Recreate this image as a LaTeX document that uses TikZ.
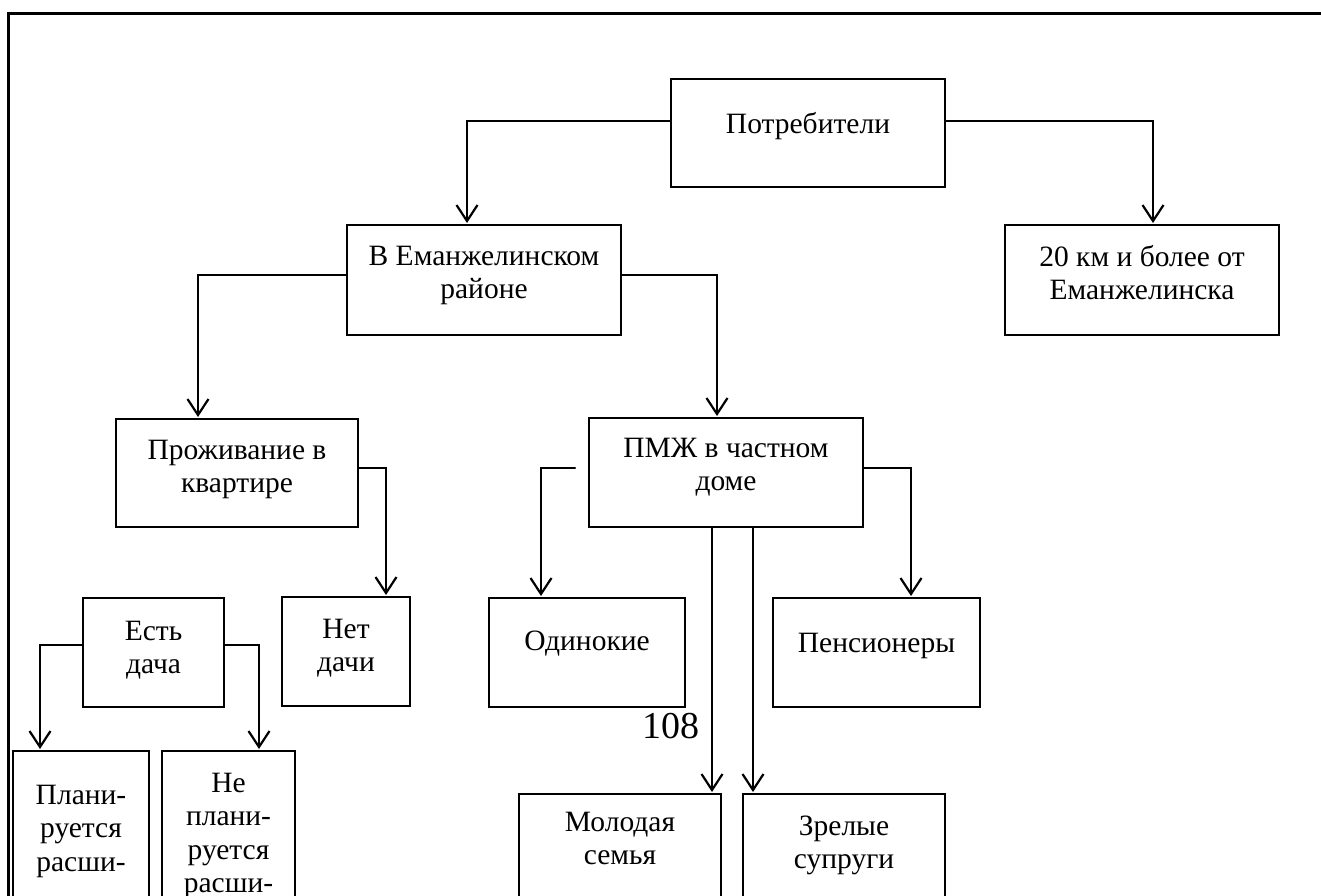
\documentclass[tikz,border=0pt]{standalone}
\usepackage{fontspec}
\setmainfont{Liberation Serif}
\usetikzlibrary{arrows.meta}
\newcommand{\boxtxt}[4]{\parbox[t][#2][t]{#1}{\centering\rule{0pt}{#3}#4}}

\begin{document}
\begin{tikzpicture}[x=1pt,y=-1pt,font=\fontsize{29.5}{33.5}\selectfont,line cap=round,
  box/.style={draw,line width=2pt,inner sep=0pt,anchor=north west},
  arr/.style={line width=2.2pt,-{Straight Barb[length=16pt,width=21pt]},shorten >=1pt}]
\useasboundingbox (0,0) rectangle (1321,895);
\begin{scope}
\clip (0,0) rectangle (1321,895);
\draw[line width=3pt,line cap=butt] (8,900) -- (8,13) -- (1325,13);
\node[box] (potr) at (670,78) {\boxtxt{274pt}{108pt}{54pt}{Потребители}};
\node[box] (vem) at (346,224) {\boxtxt{274pt}{110pt}{40pt}{В Еманжелинском\\районе}};
\node[box] (far) at (1004,224) {\boxtxt{274pt}{110pt}{41pt}{20 км и более от\\Еманжелинска}};
\node[box] (prozh) at (115,418) {\boxtxt{242pt}{108pt}{40pt}{Проживание в\\квартире}};
\node[box] (pmzh) at (588,417) {\boxtxt{274pt}{109pt}{39pt}{ПМЖ в частном\\доме}};
\node[box] (est) at (82,597) {\boxtxt{141pt}{109pt}{42pt}{Есть\\дача}};
\node[box] (net) at (281,596) {\boxtxt{128pt}{109pt}{41pt}{Нет\\дачи}};
\node[box] (odin) at (488,597) {\boxtxt{196pt}{109pt}{52pt}{Одинокие}};
\node[box] (pens) at (772,597) {\boxtxt{207pt}{109pt}{54pt}{Пенсионеры}};
\node[box] (plan) at (12,750) {\boxtxt{136pt}{200pt}{53pt}{Плани-\\руется\\расши-}};
\node[box] (neplan) at (161,750) {\boxtxt{133pt}{200pt}{41pt}{Не\\плани-\\руется\\расши-}};
\node[box] (mol) at (518,793) {\boxtxt{202pt}{150pt}{37pt}{Молодая\\семья}};
\node[box] (zrel) at (742,793) {\boxtxt{202pt}{150pt}{41pt}{Зрелые\\супруги}};
\node[font=\fontsize{38}{40}\selectfont] (pnum) at (671,726) {108};
\draw[arr] ([yshift=12pt]potr.west) -| ([xshift=-17pt]vem.north);
\draw[arr] ([yshift=12pt]potr.east) -| ([xshift=11pt]far.north);
\draw[arr] ([yshift=5pt]vem.west) -| ([xshift=-39pt]prozh.north);
\draw[arr] ([yshift=5pt]vem.east) -| ([xshift=-9pt]pmzh.north);
\draw[arr] ([yshift=5pt]prozh.east) -| ([xshift=40pt]net.north);
\draw[arr] ([xshift=-13pt,yshift=4.5pt]pmzh.west) -| ([xshift=-46pt]odin.north);
\draw[arr] ([yshift=4.5pt]pmzh.east) -| ([xshift=34.5pt]pens.north);
\draw[arr] ([xshift=-14pt]pmzh.south) -- ([xshift=-14pt]pmzh.south |- mol.north);
\draw[arr] ([xshift=27pt]pmzh.south) -- ([xshift=27pt]pmzh.south |- zrel.north);
\draw[arr] ([yshift=7.5pt]est.west) -| ([xshift=-41pt]plan.north);
\draw[arr] ([yshift=7.5pt]est.east) -| ([xshift=30.5pt]neplan.north);
\end{scope}
\end{tikzpicture}
\end{document}
